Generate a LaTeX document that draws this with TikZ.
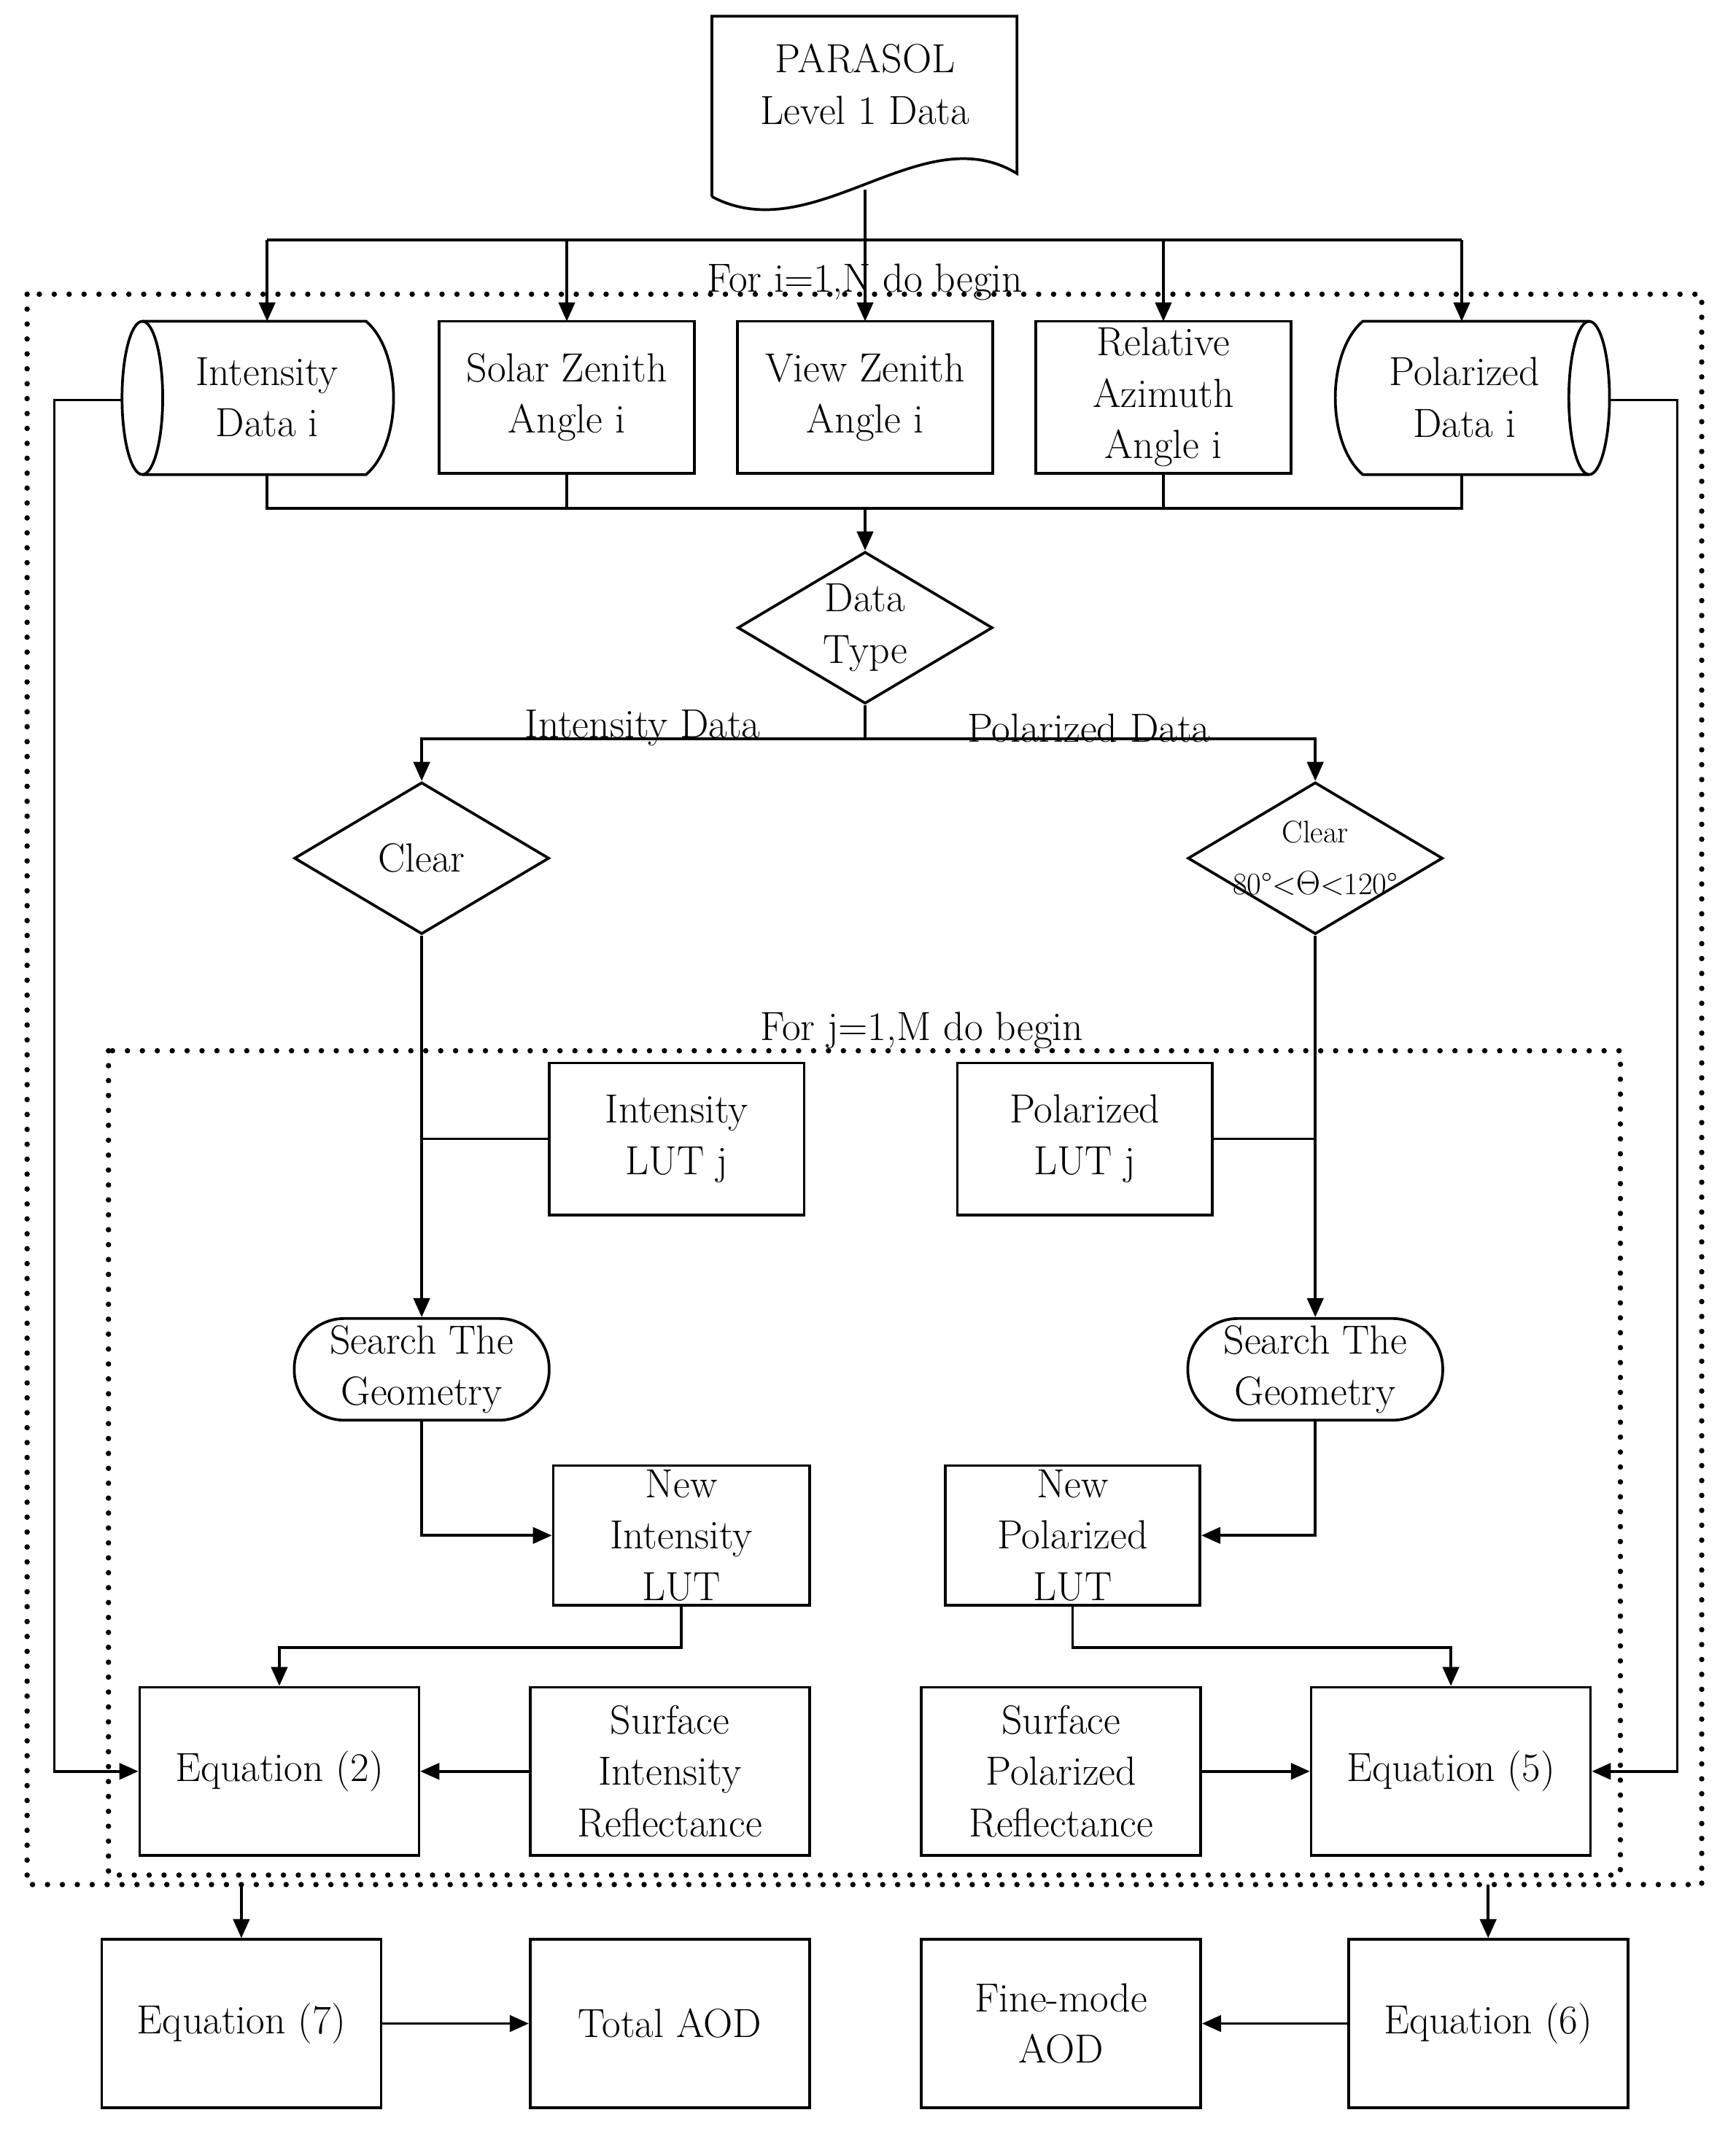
\documentclass[tikz,border=0pt]{standalone}
\usetikzlibrary{shapes.geometric,arrows.meta}
\begin{document}
\begin{tikzpicture}[x=1pt,y=-1pt,line width=2pt,
 every node/.style={font=\fontsize{30}{38}\selectfont,align=center,inner sep=0pt},
 box/.style={draw,minimum width=188pt,minimum height=112pt},
 bx/.style={draw,minimum width=206pt,minimum height=124pt},
 dia/.style={draw,diamond,aspect=1.68,minimum width=188pt,minimum height=112pt},
 stad/.style={draw,rounded corners=37pt,minimum width=188pt,minimum height=75pt},
 arr/.style={-{Triangle[length=14pt,width=12pt]}},
 dot/.style={line width=4pt,line cap=round,dash pattern=on 0pt off 11pt}]
\useasboundingbox (0,0) rectangle (1280,1574);
% document
\draw (525,145) -- (525,12) -- (750,12) -- (750,128) .. controls (680,85) and (600,185) .. (525,145);
\node (doc) at (638,62) {PARASOL\\Level 1 Data};
\coordinate (docb) at (638,140);
% outer dotted
\draw[dot] (20,217) rectangle (1255,1390);
\node at (638,208) {For i=1,N do begin};
% cylinders
\draw (105,237) -- (270,237) .. controls (297,260) and (297,327) .. (270,350) -- (105,350);
\draw (105,293.5) ellipse (15 and 56.5);
\node (int) at (197,293) {Intensity\\Data i};
\draw (1172,237) -- (1005,237) .. controls (978,260) and (978,327) .. (1005,350) -- (1172,350);
\draw (1172,293.5) ellipse (15 and 56.5);
\node (pol) at (1080,293) {Polarized\\Data i};
\node[box] (sza) at (418,293) {Solar Zenith\\Angle i};
\node[box] (vza) at (638,293) {View Zenith\\Angle i};
\node[box] (raa) at (858,293) {Relative\\Azimuth\\Angle i};
% distribution
\draw (docb) -- (638,177);
\draw (197,177) -- (1078,177);
\foreach \x in {197,418,638,858,1078} \draw[arr] (\x,177) -- (\x,237);
% collection
\draw (197,350) -- (197,375) -- (1078,375) -- (1078,350);
\draw (418,350) -- (418,375); \draw (858,350) -- (858,375);
\node[dia] (dt) at (638,463) {Data\\Type};
\draw[arr] (638,375) -- (dt.north);
\node[dia] (cl) at (311,633) {Clear};
\node[draw,diamond,aspect=1.68,minimum width=188pt,minimum height=112pt] (cr) at (970,633) {};
\node at (970,633) {\fontsize{23}{31}\selectfont Clear\\\fontsize{23}{31}\selectfont 80°<$\Theta$<120°};
\draw (dt.south) -- (638,545);
\draw[arr] (638,545) -| (cl.north);
\draw[arr] (638,545) -| (cr.north);
\node at (474,537) {Intensity Data};
\node at (803,537) {Polarized Data};
% inner
\draw[dot] (80,775) rectangle (1195,1383);
\node at (680,760) {For j=1,M do begin};
\node[box] (ilut) at (499,840) {Intensity\\LUT j};
\node[box] (plut) at (800,840) {Polarized\\LUT j};
\node[stad] (sl) at (311,1010) {Search The\\Geometry};
\node[stad] (sr) at (970,1010) {Search The\\Geometry};
\draw[arr] (cl.south) -- (sl.north);
\draw[arr] (cr.south) -- (sr.north);
\draw (ilut.west) -- (311,840);
\draw (plut.east) -- (970,840);
\node[draw,minimum width=189pt,minimum height=103pt] (nil) at (502.5,1132.5) {New\\Intensity\\LUT};
\node[draw,minimum width=188pt,minimum height=103pt] (npl) at (791,1132.5) {New\\Polarized\\LUT};
\draw[arr] (sl.south) |- (nil.west);
\draw[arr] (sr.south) |- (npl.east);
\node[bx] (e2) at (206,1306.5) {Equation (2)};
\node[bx] (sir) at (494,1306.5) {Surface\\Intensity\\Reflectance};
\node[bx] (spr) at (782.5,1306.5) {Surface\\Polarized\\Reflectance};
\node[bx] (e5) at (1070,1306.5) {Equation (5)};
\draw[arr] (nil.south) -- (502.5,1215) -| (e2.north);
\draw[arr] (npl.south) -- (791,1215) -| (e5.north);
\draw[arr] (sir.west) -- (e2.east);
\draw[arr] (spr.east) -- (e5.west);
\draw[arr] (90,295) -- (40,295) |- (e2.west);
\draw[arr] (1187,295) -- (1237,295) |- (e5.east);
% bottom
\node[bx] (e7) at (178,1492.5) {Equation (7)};
\node[bx] (tot) at (494,1492.5) {Total AOD};
\node[bx] (fm) at (782.5,1492.5) {Fine-mode\\AOD};
\node[bx] (e6) at (1097.5,1492.5) {Equation (6)};
\draw[arr] (178,1390) -- (e7.north);
\draw[arr] (1097.5,1390) -- (e6.north);
\draw[arr] (e7.east) -- (tot.west);
\draw[arr] (e6.west) -- (fm.east);
\end{tikzpicture}
\end{document}
